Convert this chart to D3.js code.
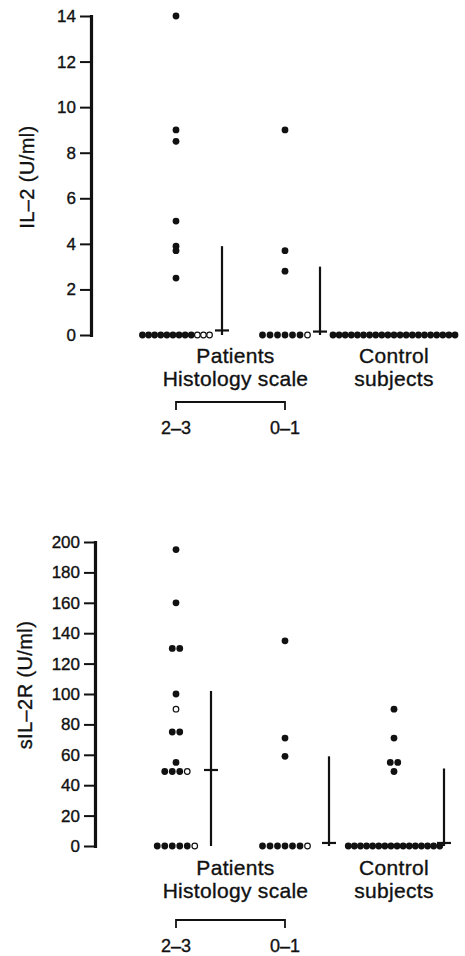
<!DOCTYPE html>
<html>
<head>
<meta charset="utf-8">
<script src="https://cdn.jsdelivr.net/npm/d3@7"></script>
<style>
body{margin:0;background:#fff;}
svg text{font-family:"Liberation Sans", Arial, Helvetica, sans-serif;fill:#111;stroke:#111;stroke-width:0.35px;}
</style>
</head>
<body>
<script>
var groups = ["2–3", "0–1", "Control"];

// IL-2 (U/ml), filled and open dots per group
var il2Filled23 = [14, 9, 8.5, 5, 3.9, 3.7, 2.5, 0, 0, 0, 0, 0, 0, 0, 0, 0];
var il2Open23 = [0, 0, 0];
var il2Filled01 = [9, 3.7, 2.8, 0, 0, 0, 0, 0, 0];
var il2Open01 = [0];
var il2FilledCtrl = [0, 0, 0, 0, 0, 0, 0, 0, 0, 0, 0, 0, 0, 0, 0, 0, 0, 0, 0, 0, 0];
var il2OpenCtrl = [];
var il2BarTop = [3.9, 3.0, null];
var il2BarMid = [0.2, 0.15, null];
var il2Ticks = [0, 2, 4, 6, 8, 10, 12, 14];

// sIL-2R (U/ml)
var sil2rFilled23 = [195, 160, 130, 130, 100, 75, 75, 55, 49, 49, 49, 0, 0, 0, 0, 0];
var sil2rOpen23 = [90, 49, 0];
var sil2rFilled01 = [135, 71, 59, 0, 0, 0, 0, 0, 0];
var sil2rOpen01 = [0];
var sil2rFilledCtrl = [90, 71, 55, 55, 49, 0, 0, 0, 0, 0, 0, 0, 0, 0, 0, 0, 0, 0, 0, 0, 0];
var sil2rOpenCtrl = [];
var sil2rBarTop = [102, 59, 51];
var sil2rBarMid = [50, 2, 2];
var sil2rTicks = [0, 20, 40, 60, 80, 100, 120, 140, 160, 180, 200];

var ink = "#111";
var svg = d3.select("body").append("svg").attr("width", 465).attr("height", 956);

function drawPanel(p){
    var y = d3.scaleLinear().domain([0, p.ticks[p.ticks.length - 1]]).range([p.y0, p.yTop]);
    var x = d3.scalePoint().domain(groups).range([176, 394]);
    var g = svg.append("g");

    // y axis
    var axis = d3.axisLeft(y).tickValues(p.ticks).tickSize(11).tickSizeOuter(0).tickPadding(4);
    var ax = g.append("g").attr("transform", "translate(" + p.axisX + ",0)").call(axis);
    ax.attr("font-size", null).attr("font-family", null);
    ax.select(".domain").attr("stroke", ink).attr("stroke-width", 3.2).attr("stroke-linecap", "square");
    ax.selectAll(".tick line").attr("stroke", ink).attr("stroke-width", 2);
    ax.selectAll(".tick text").style("font-size", "17px").attr("fill", ink);

    g.append("text")
        .attr("transform", "translate(" + p.labelX + "," + p.labelY + ") rotate(-90)")
        .attr("text-anchor", "middle")
        .style("font-size", "20px").style("letter-spacing", "0.4px")
        .text(p.ylabel);

    groups.forEach(function(name, gi){
        var pts = p.filled[gi].map(function(v){ return {v: v, open: false}; })
            .concat(p.open[gi].map(function(v){ return {v: v, open: true}; }));
        // spread equal values into a row
        d3.group(pts, function(d){ return d.v; }).forEach(function(row){
            var sp = row.length > 10 ? 6.1 : 7.5;
            row.forEach(function(d, i){ d.x = x(name) + (i - (row.length - 1) / 2) * sp; });
        });
        g.selectAll(null).data(pts).enter().append("circle")
            .attr("cx", function(d){ return d.x; })
            .attr("cy", function(d){ return y(d.v); })
            .attr("r", function(d){ return d.open ? 2.8 : 3.4; })
            .attr("fill", function(d){ return d.open ? "#fff" : ink; })
            .attr("stroke", ink)
            .attr("stroke-width", function(d){ return d.open ? 1.2 : 0; });

        if (p.barTop[gi] != null){
            var bx = x(name) + p.barDx[gi];
            g.append("line").attr("x1", bx).attr("x2", bx)
                .attr("y1", y(p.barTop[gi])).attr("y2", y(0))
                .attr("stroke", ink).attr("stroke-width", 2.2);
            g.append("line").attr("x1", bx - 7).attr("x2", bx + 7)
                .attr("y1", y(p.barMid[gi])).attr("y2", y(p.barMid[gi]))
                .attr("stroke", ink).attr("stroke-width", 2.2);
        }
    });

    // group captions
    var patX = (x(groups[0]) + x(groups[1])) / 2 + 5;
    var t = g.append("g").style("font-size", "21px").style("letter-spacing", "0.3px").attr("text-anchor", "middle");
    t.append("text").attr("x", patX).attr("y", p.y0 + p.capY[0]).text("Patients");
    t.append("text").attr("x", patX).attr("y", p.y0 + p.capY[1]).text("Histology scale");
    t.append("text").attr("x", x("Control")).attr("y", p.y0 + p.capY[0]).text("Control");
    t.append("text").attr("x", x("Control")).attr("y", p.y0 + p.capY[1]).text("subjects");

    var by = p.y0 + p.capY[2];
    g.append("path")
        .attr("d", "M" + x(groups[0]) + "," + (by + 8) + "V" + by + "H" + x(groups[1]) + "V" + (by + 8))
        .attr("fill", "none").attr("stroke", ink).attr("stroke-width", 1.8);
    g.selectAll(null).data(groups.slice(0, 2)).enter().append("text")
        .attr("x", function(d){ return x(d); })
        .attr("y", p.y0 + p.capY[3])
        .attr("text-anchor", "middle")
        .style("font-size", "18px")
        .text(function(d){ return d; });
}

drawPanel({
    ylabel: "IL–2 (U/ml)", ticks: il2Ticks,
    filled: [il2Filled23, il2Filled01, il2FilledCtrl],
    open: [il2Open23, il2Open01, il2OpenCtrl],
    barTop: il2BarTop, barMid: il2BarMid, barDx: [46, 35, 0],
    y0: 335, yTop: 16, axisX: 91, labelX: 34, labelY: 177,
    capY: [28, 51, 67, 99]
});

drawPanel({
    ylabel: "sIL–2R (U/ml)", ticks: sil2rTicks,
    filled: [sil2rFilled23, sil2rFilled01, sil2rFilledCtrl],
    open: [sil2rOpen23, sil2rOpen01, sil2rOpenCtrl],
    barTop: sil2rBarTop, barMid: sil2rBarMid, barDx: [35, 44, 50],
    y0: 846, yTop: 542, axisX: 95, labelX: 32, labelY: 685,
    capY: [29, 52, 74, 106]
});
</script>
</body>
</html>
